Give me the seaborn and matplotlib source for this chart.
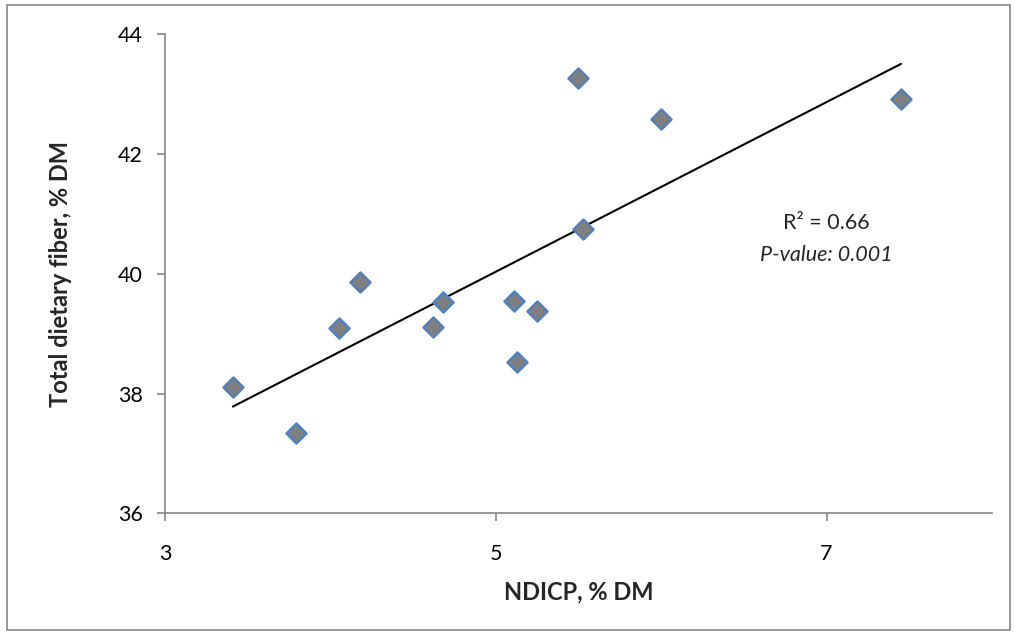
import numpy as np
import pandas as pd
import matplotlib
matplotlib.use("Agg")
import matplotlib.pyplot as plt
from matplotlib.patches import Rectangle
import seaborn as sns

# values
ndicp = [3.41, 3.79, 4.05, 4.18, 4.62, 4.68, 5.11, 5.13, 5.25, 5.50, 5.53, 6.00, 7.45]
tdf = [38.11, 37.35, 39.10, 39.86, 39.11, 39.53, 39.55, 38.52, 39.38, 43.27, 40.74, 42.58, 42.91]
x_ticks = [3, 5, 7]
y_ticks = [36, 38, 40, 42, 44]
r2_text = "R² = 0.66"
p_text = "P-value: 0.001"

df = pd.DataFrame({"NDICP": ndicp, "TDF": tdf})

sns.set_theme(style="white")
plt.rcParams["font.family"] = ["Lato", "DejaVu Sans"]

fig = plt.figure(figsize=(10.15, 6.34), dpi=100)
ax = fig.add_axes([0.1626, 0.1901, 0.8147, 0.7563])

sns.regplot(data=df, x="NDICP", y="TDF", scatter=False, ci=None,
            line_kws={"color": "black", "lw": 1.5}, ax=ax)
sns.scatterplot(data=df, x="NDICP", y="TDF", marker="D", s=105,
                color="#7f7f7f", edgecolor="#4f81bd", linewidth=1.7,
                zorder=3, ax=ax)

ax.set_xlim(3, 8)
ax.set_ylim(36, 44)
ax.set_xticks(x_ticks)
ax.set_yticks(y_ticks)

for side in ["top", "right"]:
    ax.spines[side].set_visible(False)
for side in ["left", "bottom"]:
    ax.spines[side].set_color("#868686")
    ax.spines[side].set_linewidth(1.2)
ax.tick_params(axis="both", direction="out", length=6, width=1.2,
               color="#868686", labelsize=15.5, labelcolor="black",
               bottom=True, left=True)
ax.tick_params(axis="y", pad=10)
ax.tick_params(axis="x", pad=16)

ax.set_xlabel("NDICP, % DM", fontsize=17, fontweight="bold", labelpad=12)
ax.set_ylabel("Total dietary fiber, % DM", fontsize=17, fontweight="bold", labelpad=33)

ax.text(7.0, 40.84, r2_text, fontsize=15.5, ha="center", va="center")
ax.text(7.0, 40.32, p_text, fontsize=15.5, ha="center", va="center", style="italic")

fig.patches.append(Rectangle((0.007, 0.006), 0.988, 0.986, transform=fig.transFigure,
                             fill=False, edgecolor="#868686", linewidth=1.2))

fig.savefig("out.png", dpi=100)
